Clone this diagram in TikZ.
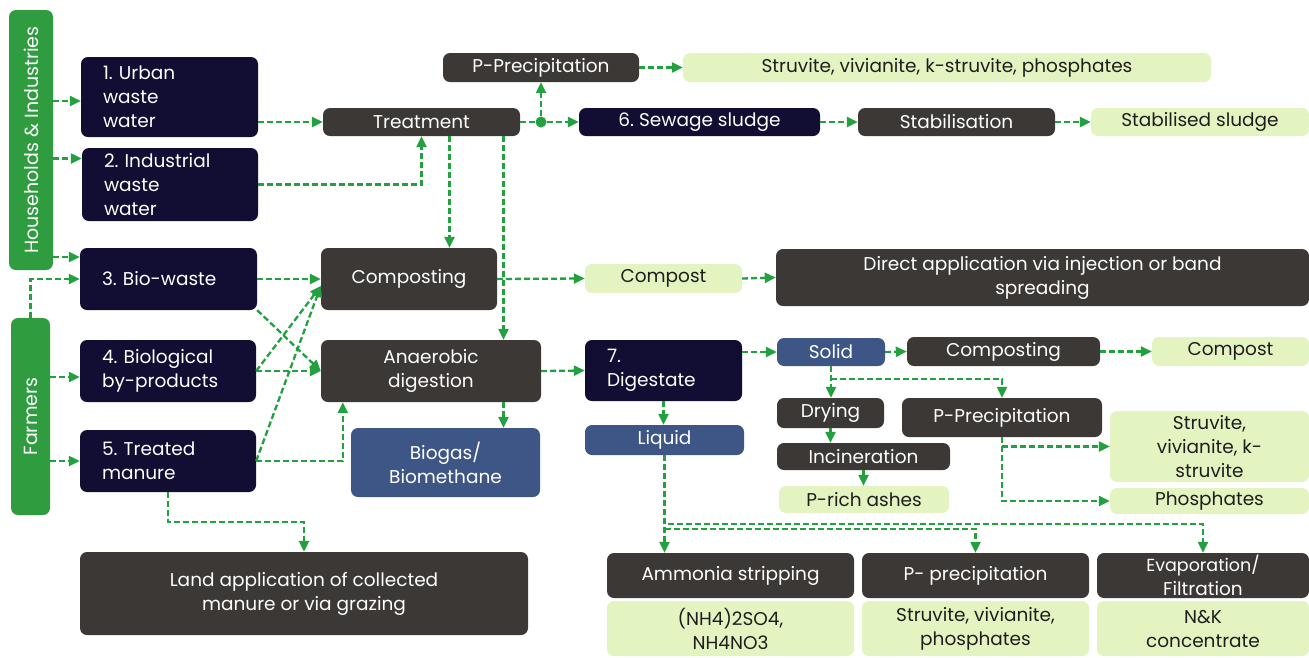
\documentclass[tikz,border=0pt]{standalone}
\usepackage{fontspec}
\setmainfont{Poppins}
\usetikzlibrary{arrows.meta,calc}
\definecolor{navy}{HTML}{110D33}
\definecolor{slate}{HTML}{3B3836}
\definecolor{steel}{HTML}{3D5685}
\definecolor{pale}{HTML}{E4F4C0}
\definecolor{leaf}{HTML}{2E9C3F}
\definecolor{flowgreen}{HTML}{23A040}
\definecolor{ink}{HTML}{1E1E1E}
\frenchspacing

% centred box: name, x1, y1, x2, y2, style, text
\newcommand\bx[7]{%
  \pgfmathsetmacro\bw{#4-#2}\pgfmathsetmacro\bh{#5-#3}%
  \node[#6, minimum width=\bw pt, minimum height=\bh pt] (#1)
    at ({(#2+#4)/2},{(#3+#5)/2}) {#7};}
% left-aligned box
\newcommand\lbx[7]{%
  \pgfmathsetmacro\bw{#4-#2}\pgfmathsetmacro\bh{#5-#3}\pgfmathsetmacro\tw{#4-#2-44}%
  \node[#6, minimum width=\bw pt, minimum height=\bh pt, inner xsep=22pt,
        text width=\tw pt, align=left] (#1)
    at ({(#2+#4)/2},{(#3+#5)/2}) {#7};}

\begin{document}
\begin{tikzpicture}[x=1pt,y=-1pt,
  box/.style={rounded corners=7pt, inner sep=2pt, align=center,
    font=\fontsize{18.5}{24}\selectfont, text=white},
  navybox/.style={box, fill=navy},
  slatebox/.style={box, fill=slate},
  steelbox/.style={box, fill=steel},
  palebox/.style={box, fill=pale, text=ink},
  bar/.style={rounded corners=7pt, fill=leaf},
  flow/.style={draw=flowgreen, line width=2.3pt, dash pattern=on 6pt off 3pt,
    -{Triangle[length=11pt,width=10pt]}},
  link/.style={draw=flowgreen, line width=2.3pt, dash pattern=on 6pt off 3pt}]
\useasboundingbox (0,0) rectangle (1309,657);
\fill[white] (0,0) rectangle (1309,657);

% source bars
\bx{hh}{9}{10}{53}{270}{bar}{}
\node[rotate=90, text=white, font=\fontsize{19}{24}\selectfont] at (hh) {Households \& Industries};
\bx{farm}{11}{318}{50}{515}{bar}{}
\node[rotate=90, text=white, font=\fontsize{19}{24}\selectfont] at (farm) {Farmers};

% waste streams
\lbx{u1}{81}{57}{258}{137}{navybox}{1. Urban\\waste\\water}
\lbx{u2}{82}{148}{258}{221}{navybox}{2. Industrial\\waste\\water}
\lbx{bio}{80}{248}{257}{310}{navybox}{3. Bio-waste}
\lbx{byp}{80}{340}{256}{402}{navybox}{4. Biological\\by-products}
\lbx{man}{80}{430}{256}{492}{navybox}{5. Treated\\manure}

% wastewater line
\bx{treat}{323}{108}{520}{136}{slatebox}{Treatment}
\bx{pp1}{443}{53}{639}{82}{slatebox}{P-Precipitation}
\bx{svk}{683}{53}{1211}{82}{palebox}{Struvite, vivianite, k-struvite, phosphates}
\bx{sew}{579}{108}{820}{136}{navybox}{6. Sewage sludge}
\bx{stab}{858}{108}{1055}{136}{slatebox}{Stabilisation}
\bx{stabd}{1091}{108}{1309}{136}{palebox}{Stabilised sludge}

% composting and digestion
\bx{comp}{321}{248}{497}{310}{slatebox}{Composting}
\bx{cmpst}{585}{264}{742}{293}{palebox}{Compost}
\bx{direct}{776}{249}{1309}{306}{slatebox}{Direct application via injection or band\\spreading}
\bx{ad}{321}{340}{541}{402}{slatebox}{Anaerobic\\digestion}
\bx{bgas}{351}{428}{540}{497}{steelbox}{Biogas/\\Biomethane}
\lbx{dig}{585}{340}{742}{401}{navybox}{7.\\Digestate}
\bx{liq}{585}{425}{744}{455}{steelbox}{Liquid}

% solid fraction
\bx{solid}{777}{338}{885}{366}{steelbox}{Solid}
\bx{comp2}{907}{337}{1100}{366}{slatebox}{Composting}
\bx{cmpst2}{1152}{337}{1309}{366}{palebox}{Compost}
\bx{dry}{777}{398}{884}{428}{slatebox}{Drying}
\bx{pp2}{902}{398}{1102}{437}{slatebox}{P-Precipitation}
\bx{inc}{777}{443}{950}{470}{slatebox}{Incineration}
\bx{ash}{779}{486}{949}{513}{palebox}{P-rich ashes}
\bx{svk2}{1110}{411}{1309}{482}{palebox}{Struvite,\\vivianite, k-\\struvite}
\bx{phos}{1110}{488}{1309}{514}{palebox}{Phosphates}

% land and liquid fraction
\bx{land}{80}{552}{528}{635}{slatebox}{Land application of collected\\manure or via grazing}
\bx{amm}{607}{553}{854}{598}{slatebox}{Ammonia stripping}
\bx{nh}{607}{601}{854}{656}{palebox}{(NH4)2SO4,\\NH4NO3}
\bx{ppl}{862}{553}{1089}{598}{slatebox}{P- precipitation}
\bx{svp}{862}{601}{1089}{656}{palebox}{Struvite, vivianite,\\phosphates}
\bx{evap}{1097}{553}{1309}{598}{slatebox}{\fontsize{17.5}{20}\selectfont Evaporation/\\Filtration}
\bx{nk}{1097}{601}{1309}{656}{palebox}{N\&K\\concentrate}

% junction after treatment
\node[circle, fill=flowgreen, inner sep=0pt, minimum size=11pt] (jd) at (541,122) {};

% helper points
\coordinate (a1) at ([yshift=-4pt]u1.west);
\coordinate (a2) at ([yshift=26pt]u2.west);
\coordinate (a3) at ([yshift=22pt]bio.west);
\coordinate (a4) at ([yshift=-6pt]byp.west);
\coordinate (t1) at ([xshift=28pt]treat.south);
\coordinate (t2) at ([xshift=82pt]treat.south);
\coordinate (cin) at ([yshift=-7pt]comp.west);
\coordinate (adin) at ([xshift=22pt]ad.south west);
\coordinate (sj) at ($(solid.south)+(0,13)$);
\coordinate (lj1) at ($(liq.south)+(0,69)$);
\coordinate (lj2) at ($(liq.south)+(0,74)$);
\coordinate (mj) at ($(man.south)+(0,30)$);

% sources into streams
\draw[flow] (a1 -| hh.east) -- (a1);
\draw[flow] (a2 -| hh.east) -- (a2);
\draw[flow] (a3 -| hh.east) -- (a3);
\draw[flow] (farm.north) |- (bio.west);
\draw[flow] (a4 -| farm.east) -- (a4);
\draw[flow] (man.west -| farm.east) -- (man.west);

% wastewater
\draw[flow] (treat.west -| u1.east) -- (treat.west);
\draw[flow] (u2.east) -| (treat.south);
\draw[flow] (t1) -- (t1 |- comp.north);
\draw[flow] (t2) -- (t2 |- ad.north);
\draw[link] (treat.east) -- (jd);
\draw[flow] (jd) -- (sew.west);
\draw[flow] (jd) -- (jd |- pp1.south);
\draw[flow] (pp1.east) -- (svk.west);
\draw[flow] (sew.east) -- (stab.west);
\draw[flow] (stab.east) -- (stabd.west);

% organic streams
\draw[flow] (bio.east) -- (comp.west);
\draw[flow] (bio.south east) -- (ad.west);
\draw[flow] (byp.east) -- (cin);
\draw[flow] (man.east) -- (cin);
\draw[flow] (byp.east) -- (ad.west);
\draw[flow] (man.east) -| (adin);
\draw[flow] (t2 |- ad.south) -- (t2 |- bgas.north);
\draw[flow] (ad.east) -- (dig.west);
\draw[flow] (comp.east) -- (cmpst.west);
\draw[flow] (cmpst.east) -- (direct.west);
\draw[flow] (man.south) -- (mj) -| (land.north);

% digestate
\draw[flow] (solid.west -| dig.east) -- (solid.west);
\draw[flow] (solid.east) -- (comp2.west);
\draw[flow] (comp2.east) -- (cmpst2.west);
\draw[flow] (solid.south) -- (solid.south |- dry.north);
\draw[flow] (sj) -| (pp2.north);
\draw[flow] (dry.south) -- (dry.south |- inc.north);
\draw[flow] (inc.south) -- (inc.south |- ash.north);
\draw[flow] (pp2.south) |- (svk2.west);
\draw[flow] (pp2.south) |- (phos.west);
\draw[flow] (dig.south) -- (dig.south |- liq.north);
\draw[flow] (liq.south) -- (liq.south |- amm.north);
\draw[flow] (liq.south) -- (lj1) -| (evap.north);
\draw[flow] (lj2) -| (ppl.north);
\end{tikzpicture}
\end{document}
